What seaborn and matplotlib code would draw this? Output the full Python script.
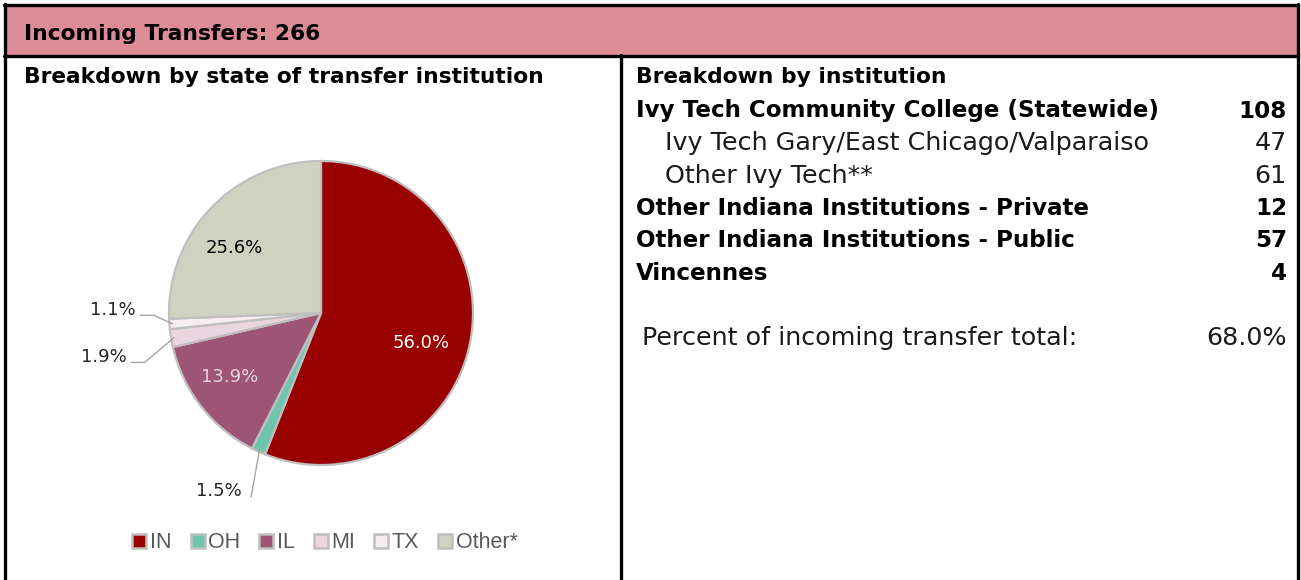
import matplotlib
matplotlib.use("Agg")
import matplotlib.pyplot as plt
from matplotlib.patches import Rectangle
import numpy as np
import seaborn as sns

# data
states = ["IN", "OH", "IL", "MI", "TX", "Other*"]
state_pct = [56.0, 1.5, 13.9, 1.9, 1.1, 25.6]
state_colors = ["#990000", "#6EC5AC", "#9E5573", "#EBD5DE", "#F5EDF0", "#CFD2C0"]
label_colors = ["white", "#404040", "#E8D3DC", "#404040", "#404040", "black"]

inst_names = ["Ivy Tech Community College (Statewide)",
              "Ivy Tech Gary/East Chicago/Valparaiso",
              "Other Ivy Tech**",
              "Other Indiana Institutions - Private",
              "Other Indiana Institutions - Public",
              "Vincennes"]
inst_counts = [108, 47, 61, 12, 57, 4]
inst_bold = [True, False, False, True, True, True]
total_incoming = 266
pct_of_total = 68.0

sns.set_theme(style="white")
plt.rcParams['font.family'] = ['DejaVu Sans']

fig = plt.figure(figsize=(13.01, 5.8), dpi=100)

# background axes in pixel units for the table layout
bg = fig.add_axes([0, 0, 1, 1])
bg.set_xlim(0, 1301)
bg.set_ylim(580, 0)
bg.axis('off')

bg.add_patch(Rectangle((5, 6), 1292, 49, facecolor="#DC8C96", edgecolor="none"))
lw = 2.4
bg.plot([4, 1298], [5, 5], color="black", lw=lw)
bg.plot([4, 1298], [55.5, 55.5], color="black", lw=lw)
bg.plot([5, 5], [4, 580], color="black", lw=lw)
bg.plot([1297.5, 1297.5], [4, 580], color="black", lw=lw)
bg.plot([620.5, 620.5], [55, 580], color="black", lw=lw)

hsize = 15.7
bg.text(24, 34, f"Incoming Transfers: {total_incoming}", fontsize=hsize, fontweight="bold",
        va="center", ha="left", color="black")
bg.text(24, 77, "Breakdown by state of transfer institution", fontsize=hsize, fontweight="bold",
        va="center", ha="left", color="black")
bg.text(636, 77, "Breakdown by institution", fontsize=hsize, fontweight="bold",
        va="center", ha="left", color="black")

bsize = 16.6
lsize = 18.3
row_y = 111
for name, cnt, bold in zip(inst_names, inst_counts, inst_bold):
    if bold:
        bg.text(636, row_y, name, fontsize=bsize, fontweight="bold", va="center", ha="left", color="black")
        bg.text(1287, row_y, str(cnt), fontsize=bsize, fontweight="bold", va="center", ha="right", color="black")
    else:
        bg.text(665, row_y, name, fontsize=lsize, va="center", ha="left", color="#1a1a1a")
        bg.text(1287, row_y, str(cnt), fontsize=lsize, va="center", ha="right", color="#1a1a1a")
    row_y += 32.4

bg.text(642, 338, "Percent of incoming transfer total:", fontsize=lsize,
        va="center", ha="left", color="#1a1a1a")
bg.text(1287, 338, f"{pct_of_total:.1f}%", fontsize=lsize,
        va="center", ha="right", color="#1a1a1a")

# pie chart
cx, cy, r = 321, 313, 152
pie_ax = fig.add_axes([(cx - r) / 1301, (580 - cy - r) / 580, 2 * r / 1301, 2 * r / 580])
wedges, _ = pie_ax.pie(state_pct, colors=state_colors, startangle=90, counterclock=False,
                       radius=1.0, wedgeprops=dict(edgecolor="#BFBFBF", linewidth=1.6))
pie_ax.set_xlim(-1, 1)
pie_ax.set_ylim(-1, 1)
pie_ax.axis('off')

# label positions (data units) - inside labels and outside ones with leader lines
inside_pos = {0: (0.66, -0.20), 2: (-0.60, -0.42), 5: (-0.57, 0.43)}
outside = {1: (-0.52, -1.17), 3: (-1.28, -0.29), 4: (-1.22, 0.02)}
for i, w in enumerate(wedges):
    txt = f"{state_pct[i]:.1f}%"
    if i in inside_pos:
        x, y = inside_pos[i]
        pie_ax.text(x, y, txt, ha="center", va="center", fontsize=13, color=label_colors[i])
    else:
        mid = np.deg2rad((w.theta1 + w.theta2) / 2)
        ex, ey = 0.98 * np.cos(mid), 0.98 * np.sin(mid)
        tx, ty = outside[i]
        if i == 1:
            pie_ax.plot([ex, tx + 0.06], [ey, ty - 0.04], color="#A6A6A6", lw=1, clip_on=False)
        else:
            pie_ax.plot([ex, tx + 0.12, tx + 0.03], [ey, ty - 0.035, ty - 0.035],
                        color="#A6A6A6", lw=1, clip_on=False)
        pie_ax.text(tx, ty, txt, ha="right", va="center", fontsize=13, color="#262626")

# legend
handles = [Rectangle((0, 0), 1, 1, facecolor=c, edgecolor="#BFBFBF", lw=1.8) for c in state_colors]
leg = fig.legend(handles, states, loc="center", bbox_to_anchor=(325 / 1301, 1 - 543 / 580),
                 ncol=6, frameon=False, handlelength=0.65, handleheight=0.65, handletextpad=0.15,
                 columnspacing=0.9, prop={'family': ['Liberation Sans', 'DejaVu Sans'], 'size': 15.5})
for t in leg.get_texts():
    t.set_color("#595959")

fig.savefig("out.png", dpi=100)
